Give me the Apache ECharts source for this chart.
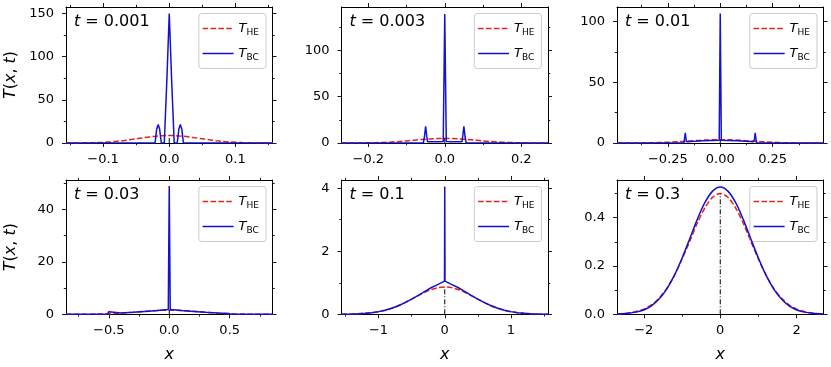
<!DOCTYPE html>
<html>
<head>
<meta charset="utf-8">
<script src="https://cdn.jsdelivr.net/npm/echarts@6/dist/echarts.min.js"></script>
<style>
html, body { margin: 0; padding: 0; background: #fff; }
#main { width: 831px; height: 367px; }
</style>
</head>
<body>
<div id="main"></div>
<script>
var chart = echarts.init(document.getElementById('main'));
var FONT = 'DejaVu Sans';

var times = ['0.001', '0.003', '0.01', '0.03', '0.1', '0.3'];

// t = 0.001
var xHE1 = [-0.156, -0.14, -0.13, -0.12, -0.11, -0.10, -0.09, -0.08, -0.07, -0.06, -0.05, -0.04, -0.03, -0.02, -0.01, 0, 0.01, 0.02, 0.03, 0.04, 0.05, 0.06, 0.07, 0.08, 0.09, 0.10, 0.11, 0.12, 0.13, 0.14, 0.156];
var tHE1 = [0.03, 0.09, 0.16, 0.29, 0.50, 0.82, 1.29, 1.92, 2.73, 3.71, 4.81, 5.94, 7.01, 7.88, 8.46, 8.66, 8.46, 7.88, 7.01, 5.94, 4.81, 3.71, 2.73, 1.92, 1.29, 0.82, 0.50, 0.29, 0.16, 0.09, 0.03];
var xBC1 = [-0.156, -0.0215, -0.0205, -0.019, -0.0167, -0.0145, -0.013, -0.012, -0.0075, -0.0035, 0, 0.0035, 0.0075, 0.012, 0.013, 0.0145, 0.0167, 0.019, 0.0205, 0.0215, 0.156];
var tBC1 = [0, 0, 6, 16, 21.5, 16, 6, 0, 0, 75, 150, 75, 0, 0, 6, 16, 21.5, 16, 6, 0, 0];

// t = 0.003
var xHE2 = [-0.27, -0.24, -0.22, -0.20, -0.18, -0.16, -0.14, -0.12, -0.10, -0.08, -0.06, -0.04, -0.02, 0, 0.02, 0.04, 0.06, 0.08, 0.10, 0.12, 0.14, 0.16, 0.18, 0.20, 0.22, 0.24, 0.27];
var tHE2 = [0.02, 0.05, 0.11, 0.22, 0.39, 0.67, 1.07, 1.61, 2.28, 3.02, 3.77, 4.41, 4.85, 5.0, 4.85, 4.41, 3.77, 3.02, 2.28, 1.61, 1.07, 0.67, 0.39, 0.22, 0.11, 0.05, 0.02];
var xBC2 = [-0.27, -0.056, -0.053, -0.050, -0.047, -0.045, -0.03, -0.015, -0.004, 0, 0.004, 0.015, 0.03, 0.045, 0.047, 0.050, 0.053, 0.056, 0.27];
var tBC2 = [0, 0, 7, 18, 7, 1.3, 1.3, 1.4, 1.5, 139, 1.5, 1.4, 1.3, 1.3, 7, 18, 7, 0, 0];

// t = 0.01
var xHE3 = [-0.493, -0.45, -0.40, -0.35, -0.30, -0.25, -0.20, -0.15, -0.10, -0.05, 0, 0.05, 0.10, 0.15, 0.20, 0.25, 0.30, 0.35, 0.40, 0.45, 0.493];
var tHE3 = [0.01, 0.02, 0.06, 0.15, 0.33, 0.63, 1.07, 1.61, 2.16, 2.58, 2.74, 2.58, 2.16, 1.61, 1.07, 0.63, 0.33, 0.15, 0.06, 0.02, 0.01];
var xBC3 = [-0.493, -0.174, -0.170, -0.167, -0.164, -0.16, -0.12, -0.08, -0.04, -0.005, 0, 0.005, 0.04, 0.08, 0.12, 0.16, 0.164, 0.167, 0.170, 0.174, 0.493];
var tBC3 = [0, 0, 4, 8.3, 4, 1.1, 1.4, 1.8, 2.1, 2.3, 106.6, 2.3, 2.1, 1.8, 1.4, 1.1, 4, 8.3, 4, 0, 0];

// t = 0.03
var xHE4 = [-0.854, -0.7, -0.6, -0.5, -0.4, -0.3, -0.2, -0.1, 0, 0.1, 0.2, 0.3, 0.4, 0.5, 0.6, 0.7, 0.854];
var tHE4 = [0.005, 0.034, 0.094, 0.22, 0.45, 0.78, 1.15, 1.46, 1.58, 1.46, 1.15, 0.78, 0.45, 0.22, 0.094, 0.034, 0.005];
var xBC4 = [-0.854, -0.51, -0.5, -0.49, -0.4, -0.3, -0.2, -0.1, -0.008, 0, 0.008, 0.1, 0.2, 0.3, 0.4, 0.49, 0.5, 0.51, 0.854];
var tBC4 = [0, 0, 1.0, 0.3, 0.45, 0.75, 1.1, 1.45, 1.85, 48.9, 1.85, 1.45, 1.1, 0.75, 0.45, 0.3, 1.0, 0, 0];

// t = 0.1
var xHE5 = [-1.559, -1.4, -1.3, -1.2, -1.1, -1.0, -0.9, -0.8, -0.7, -0.6, -0.5, -0.4, -0.3, -0.2, -0.1, 0, 0.1, 0.2, 0.3, 0.4, 0.5, 0.6, 0.7, 0.8, 0.9, 1.0, 1.1, 1.2, 1.3, 1.4, 1.559];
var tHE5 = [0.003, 0.009, 0.016, 0.029, 0.050, 0.082, 0.129, 0.192, 0.273, 0.371, 0.481, 0.594, 0.700, 0.788, 0.846, 0.866, 0.846, 0.788, 0.700, 0.594, 0.481, 0.371, 0.273, 0.192, 0.129, 0.082, 0.050, 0.029, 0.016, 0.009, 0.003];
var xBC5 = [-1.559, -1.4, -1.3, -1.2, -1.1, -1.0, -0.9, -0.8, -0.7, -0.6, -0.5, -0.4, -0.3, -0.2, -0.1, -0.004, 0, 0.004, 0.1, 0.2, 0.3, 0.4, 0.5, 0.6, 0.7, 0.8, 0.9, 1.0, 1.1, 1.2, 1.3, 1.4, 1.559];
var tBC5 = [0.002, 0.008, 0.016, 0.03, 0.05, 0.085, 0.13, 0.19, 0.27, 0.37, 0.48, 0.60, 0.73, 0.85, 0.95, 1.05, 4.05, 1.05, 0.95, 0.85, 0.73, 0.60, 0.48, 0.37, 0.27, 0.19, 0.13, 0.085, 0.05, 0.03, 0.016, 0.008, 0.002];

// t = 0.3
var xHE6 = [-2.7, -2.6, -2.4, -2.2, -2.0, -1.8, -1.6, -1.4, -1.2, -1.0, -0.8, -0.6, -0.4, -0.2, 0, 0.2, 0.4, 0.6, 0.8, 1.0, 1.2, 1.4, 1.6, 1.8, 2.0, 2.2, 2.4, 2.6, 2.7];
var tHE6 = [0.0016, 0.0025, 0.0054, 0.0112, 0.0216, 0.039, 0.067, 0.107, 0.161, 0.228, 0.302, 0.377, 0.441, 0.4845, 0.5, 0.4845, 0.441, 0.377, 0.302, 0.228, 0.161, 0.107, 0.067, 0.039, 0.0216, 0.0112, 0.0054, 0.0025, 0.0016];
var xBC6 = [-2.7, -2.6, -2.4, -2.2, -2.0, -1.8, -1.6, -1.4, -1.2, -1.0, -0.8, -0.6, -0.4, -0.2, 0, 0.2, 0.4, 0.6, 0.8, 1.0, 1.2, 1.4, 1.6, 1.8, 2.0, 2.2, 2.4, 2.6, 2.7];
var tBC6 = [0.001, 0.0018, 0.0042, 0.009, 0.018, 0.035, 0.063, 0.104, 0.161, 0.232, 0.312, 0.393, 0.463, 0.51, 0.527, 0.51, 0.463, 0.393, 0.312, 0.232, 0.161, 0.104, 0.063, 0.035, 0.018, 0.009, 0.0042, 0.0018, 0.001];

// axis ranges and ticks
var xLim = [0.156, 0.27, 0.493, 0.854, 1.559, 2.7];
var yMax = [157.5, 146.5, 112, 51.2, 4.26, 0.556];
var xMajor = [[-0.1, 0, 0.1], [-0.2, 0, 0.2], [-0.25, 0, 0.25], [-0.5, 0, 0.5], [-1, 0, 1], [-2, 0, 2]];
var xMinor = [[-0.15, -0.05, 0.05, 0.15], [-0.1, 0.1], [-0.375, -0.125, 0.125, 0.375], [-0.75, -0.25, 0.25, 0.75], [-1.5, -0.5, 0.5, 1.5], [-1, 1]];
var yMajor = [[0, 50, 100, 150], [0, 50, 100], [0, 50, 100], [0, 20, 40], [0, 2, 4], [0, 0.2, 0.4]];
var yMinor = [[25, 75, 125], [25, 75, 125], [25, 75], [10, 30, 50], [1, 3], [0.1, 0.3, 0.5]];
var xDec = [1, 1, 2, 1, 0, 0];
var yDec = [0, 0, 0, 0, 0, 1];

var xHE = [xHE1, xHE2, xHE3, xHE4, xHE5, xHE6];
var tHE = [tHE1, tHE2, tHE3, tHE4, tHE5, tHE6];
var xBC = [xBC1, xBC2, xBC3, xBC4, xBC5, xBC6];
var tBC = [tBC1, tBC2, tBC3, tBC4, tBC5, tBC6];

var gridLeft = [66, 341.5, 617];
var gridTop = [7, 180];
var gridW = 206.5;
var gridH = [136, 134.3];

function pairs(xs, ys) {
    return xs.map(function (x, k) { return [x, ys[k]]; });
}

function fmt(dec) {
    return function (v) { return v.toFixed(dec).replace('-', '\u2212'); };
}

function makeAxis(dim, i, position, ticks, tickLen, withLine, withLabel) {
    var ax = {
        type: 'value',
        gridIndex: i,
        position: position,
        min: dim === 'x' ? -xLim[i] : 0,
        max: dim === 'x' ? xLim[i] : yMax[i],
        splitLine: { show: false },
        axisLine: { show: withLine, onZero: false, lineStyle: { color: '#000', width: 1 } },
        axisTick: { show: true, inside: false, length: tickLen, customValues: ticks, lineStyle: { color: '#000', width: 0.9 } },
        axisLabel: {
            show: withLabel,
            customValues: ticks,
            formatter: fmt(dim === 'x' ? xDec[i] : yDec[i]),
            fontFamily: FONT,
            fontSize: 13,
            color: '#000',
            margin: dim === 'x' ? 10 : 12
        }
    };
    return ax;
}

var grids = [], xAxes = [], yAxes = [], series = [], legends = [], graphics = [];

for (var i = 0; i < 6; i++) {
    var col = i % 3, row = Math.floor(i / 3);
    var L = gridLeft[col], T = gridTop[row];
    grids.push({ left: L, top: T, width: gridW, height: gridH[row], outerBoundsMode: 'none' });

    var xb = makeAxis('x', i, 'bottom', xMajor[i], 4, true, true);
    if (row === 1) {
        xb.name = '{i|x}';
        xb.nameLocation = 'middle';
        xb.nameGap = 33;
        xb.nameTextStyle = { rich: { i: { fontStyle: 'italic', fontFamily: FONT, fontSize: 16, color: '#000' } } };
    }
    xAxes.push(xb);
    xAxes.push(makeAxis('x', i, 'bottom', xMinor[i], 2.2, false, false));
    xAxes.push(makeAxis('x', i, 'top', xMajor[i], 4, true, false));
    xAxes.push(makeAxis('x', i, 'top', xMinor[i], 2.2, false, false));

    var yl = makeAxis('y', i, 'left', yMajor[i], 4, true, true);
    if (col === 0) {
        yl.name = '{i|T}({i|x}, {i|t})';
        yl.nameLocation = 'middle';
        yl.nameGap = 47;
        yl.nameTextStyle = {
            fontFamily: FONT, fontSize: 16, color: '#000',
            rich: { i: { fontStyle: 'italic', fontFamily: FONT, fontSize: 16, color: '#000' } }
        };
    }
    yAxes.push(yl);
    yAxes.push(makeAxis('y', i, 'left', yMinor[i], 2.2, false, false));
    yAxes.push(makeAxis('y', i, 'right', yMajor[i], 4, true, false));
    yAxes.push(makeAxis('y', i, 'right', yMinor[i], 2.2, false, false));

    var smoothBC = i === 5 ? 0.3 : false;
    series.push({
        type: 'line', name: 'HE', xAxisIndex: 4 * i, yAxisIndex: 4 * i,
        data: pairs(xHE[i], tHE[i]), symbol: 'none', smooth: 0.3, animation: false, z: 3,
        lineStyle: { color: '#e8211d', width: 1.5, type: [5.5, 2.4] },
        itemStyle: { color: '#e8211d' }
    });
    series.push({
        type: 'line', name: 'BC', xAxisIndex: 4 * i, yAxisIndex: 4 * i,
        data: pairs(xBC[i], tBC[i]), symbol: 'none', smooth: smoothBC, animation: false, z: 4,
        lineStyle: { color: '#1212d0', width: 1.5 },
        itemStyle: { color: '#1212d0' }
    });
    series.push({
        type: 'line', name: 'origin', xAxisIndex: 4 * i, yAxisIndex: 4 * i,
        data: [[0, 0], [0, Math.max.apply(null, tHE[i])]], symbol: 'none', animation: false, z: 5,
        lineStyle: { color: '#000', width: 1, type: [5, 2, 1, 2] }
    });

    legends.push({
        show: true,
        orient: 'vertical',
        right: 831 - (L + gridW) + 6.5,
        top: T + 6.5,
        data: ['HE', 'BC'],
        selectedMode: false,
        itemWidth: 31,
        itemHeight: 14,
        itemGap: 7,
        padding: [6, 7, 6, 3],
        backgroundColor: 'rgba(255,255,255,0.8)',
        borderColor: '#cccccc',
        borderWidth: 1,
        borderRadius: 3,
        lineStyle: { width: 1.5 },
        itemStyle: { color: 'rgba(0,0,0,0)', borderColor: 'rgba(0,0,0,0)', borderWidth: 0, opacity: 0 },
        formatter: function (name) { return '{t|T}{s|' + name + '}'; },
        textStyle: {
            color: '#000',
            rich: {
                t: { fontStyle: 'italic', fontFamily: FONT, fontSize: 13, color: '#000' },
                s: { fontFamily: FONT, fontSize: 9, lineHeight: 5, padding: [9, 0, 0, 0], color: '#000' }
            }
        }
    });

    graphics.push({
        type: 'text',
        x: L + 8,
        y: T + 15,
        z: 10,
        style: {
            text: '{i|t}{n| = ' + times[i] + '}',
            verticalAlign: 'middle',
            rich: {
                i: { fontStyle: 'italic', fontFamily: FONT, fontSize: 16, fill: '#000' },
                n: { fontFamily: FONT, fontSize: 16, fill: '#000' }
            }
        }
    });
}

chart.setOption({
    animation: false,
    backgroundColor: '#fff',
    grid: grids,
    xAxis: xAxes,
    yAxis: yAxes,
    legend: legends,
    graphic: graphics,
    series: series
});
</script>
</body>
</html>
